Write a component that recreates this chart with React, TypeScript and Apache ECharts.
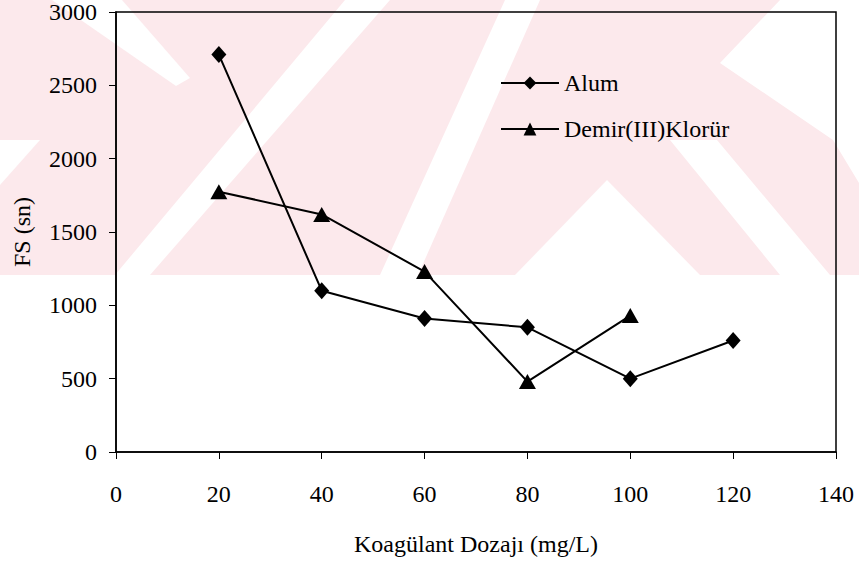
import React, { useEffect, useRef } from "react";
import * as echarts from "echarts";

const alumX = [20, 40, 60, 80, 100, 120];
const alumY = [2710, 1100, 910, 850, 500, 760];
const demirX = [20, 40, 60, 80, 100];
const demirY = [1775, 1620, 1230, 480, 930];
const seriesNames = ["Alum", "Demir(III)Klorür"];
const xAxisTitle = "Koagülant Dozajı (mg/L)";
const yAxisTitle = "FS (sn)";

const PINK = "#fce9ec";
const FONT = "Liberation Serif, Times New Roman, serif";

function whitePoly(points: number[][]) {
  return {
    type: "polygon",
    silent: true,
    z: -10,
    shape: { points },
    style: { fill: "#ffffff" },
  };
}

export default function App() {
  const ref = useRef<HTMLDivElement>(null);
  useEffect(() => {
    if (!ref.current) return;
    const chart = echarts.init(ref.current, null, { renderer: "svg" });
    const alumData = alumX.map((x, i) => [x, alumY[i]]);
    const demirData = demirX.map((x, i) => [x, demirY[i]]);
    const txt = { fontFamily: FONT, fontSize: 24, color: "#000" };
    chart.setOption({
      animation: false,
      backgroundColor: "#ffffff",
      textStyle: { fontFamily: FONT },
      graphic: [
        {
          type: "rect",
          silent: true,
          z: -11,
          shape: { x: 0, y: 0, width: 859, height: 275 },
          style: { fill: PINK },
        },
        whitePoly([[52, 0], [122, 0], [190, 78], [176, 86]]),
        whitePoly([[345, 0], [390, 0], [150, 275], [115, 275]]),
        whitePoly([[505, 0], [540, 0], [418, 275], [380, 275]]),
        whitePoly([[607, 180], [700, 275], [515, 275]]),
        whitePoly([[670, 140], [717, 140], [830, 275], [780, 275]]),
        whitePoly([[720, 63], [780, 0], [859, 0], [859, 183], [833, 140]]),
        whitePoly([[0, 140], [40, 140], [0, 185]]),
      ],
      grid: {
        left: 116,
        top: 12,
        width: 720,
        height: 440,
        show: true,
        borderColor: "#000",
        borderWidth: 1.5,
        backgroundColor: "transparent",
      },
      legend: {
        orient: "vertical",
        left: 495,
        top: 66,
        itemWidth: 58,
        itemHeight: 16,
        itemGap: 22,
        data: seriesNames,
        textStyle: txt,
      },
      xAxis: {
        type: "value",
        min: 0,
        max: 140,
        interval: 20,
        name: xAxisTitle,
        nameLocation: "middle",
        nameGap: 80,
        nameTextStyle: txt,
        axisLine: { lineStyle: { color: "#000", width: 1.5 } },
        axisTick: { show: true, length: 7, lineStyle: { color: "#000" } },
        axisLabel: { margin: 30, ...txt, formatter: (v: number) => String(v) },
        splitLine: { show: false },
      },
      yAxis: {
        type: "value",
        min: 0,
        max: 3000,
        interval: 500,
        name: yAxisTitle,
        nameLocation: "middle",
        nameGap: 82,
        nameTextStyle: txt,
        axisLine: { show: true, lineStyle: { color: "#000", width: 1.5 } },
        axisTick: { show: true, length: 7, lineStyle: { color: "#000" } },
        axisLabel: { margin: 19, ...txt, formatter: (v: number) => String(v) },
        splitLine: { show: false },
      },
      series: [
        {
          name: seriesNames[0],
          type: "line",
          data: alumData,
          symbol: "diamond",
          symbolSize: [15, 17],
          color: "#000",
          lineStyle: { color: "#000", width: 2 },
          itemStyle: { color: "#000" },
        },
        {
          name: seriesNames[1],
          type: "line",
          data: demirData,
          symbol: "triangle",
          symbolSize: [17, 15],
          color: "#000",
          lineStyle: { color: "#000", width: 2 },
          itemStyle: { color: "#000" },
        },
      ],
    });
    return () => chart.dispose();
  }, []);
  return (
    <div
      ref={ref}
      style={{ position: "absolute", left: 0, top: 0, width: 859, height: 564 }}
    />
  );
}
